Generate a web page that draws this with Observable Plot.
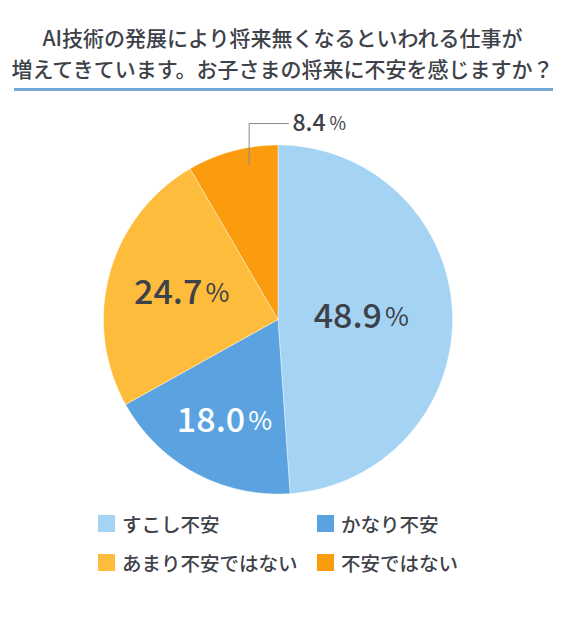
<!DOCTYPE html>
<html>
<head>
<meta charset="utf-8">
<script src="https://cdn.jsdelivr.net/npm/d3@7"></script>
<script src="https://cdn.jsdelivr.net/npm/@observablehq/plot@0.6"></script>
<style>
  body { margin: 0; background: #fff; font-family: "Noto Sans CJK JP", "Noto Sans", sans-serif; color: #3d4149; }
  #wrap { width: 570px; }
  h1 { margin: 0; padding: 22px 5px 0 0; height: 66px; font-size: 21px; font-weight: 500; line-height: 31px; text-align: center; }
  .rule { margin-left: 14px; width: 539px; height: 3px; background: #72a9d6; }
  #chart { margin-top: 8px; height: 405px; }
  .legend { display: grid; grid-template-columns: 219px 200px; padding-left: 98px; }
  .legend div { height: 39px; display: flex; align-items: center; font-size: 19.5px; font-weight: 500; }
  .legend span { display: inline-block; width: 17px; height: 17px; margin-right: 7px; }
</style>
</head>
<body>
<div id="wrap">
  <h1>AI技術の発展により将来無くなるといわれる仕事が<br>増えてきています。お子さまの将来に不安を感じますか？</h1>
  <div class="rule"></div>
  <div id="chart"></div>
  <div class="legend" id="legend"></div>
</div>
<script>
// answers, in clockwise order from 12 o'clock
const answers = ["すこし不安", "かなり不安", "あまり不安ではない", "不安ではない"];
const shares = [48.9, 18.0, 24.7, 8.4];
const colors = ["#a5d3f4", "#5aa3e0", "#fdbc3b", "#fa9c0d"];

const arcs = d3.pie().sort(null).value(d => d)(shares);

// slice outlines in unit-circle coords (angle 0 = top, clockwise)
const polar = (a, r) => ({x: r * Math.sin(a), y: r * Math.cos(a)});
const slices = arcs.map((a, i) => {
  const pts = [{...polar(0, 0), key: i}];
  const n = Math.max(2, Math.ceil((a.endAngle - a.startAngle) / 0.01));
  for (let k = 0; k <= n; k++) {
    pts.push({...polar(a.startAngle + (a.endAngle - a.startAngle) * k / n, 1), key: i});
  }
  pts.push({...polar(0, 0), key: i});
  return pts;
});

// inside labels (last slice gets a leader line)
const labelR = [0.47, 0.66, 0.58];
const inside = arcs.slice(0, 3).map((a, i) => ({
  ...polar((a.startAngle + a.endAngle) / 2, labelR[i]),
  num: shares[i].toFixed(1),
  color: i === 1 ? "#fff" : "#3d4149"
}));

const last = arcs[3];
const p0 = polar(last.startAngle + 0.65 * (last.endAngle - last.startAngle), 0.9);
const leader = [p0, {x: p0.x, y: 1.123}, {x: 0.06, y: 1.123}];
const outside = [{x: 0.06, y: 1.123, num: shares[3].toFixed(1)}];

const cx = 277.5, cy = 220, R = 174.5;

const chart = Plot.plot({
  width: 570,
  height: 405,
  margin: 0,
  x: {domain: [-1, 1], range: [cx - R, cx + R], axis: null},
  y: {domain: [-1, 1], range: [cy + R, cy - R], axis: null},
  style: {fontFamily: "'Noto Sans CJK JP', sans-serif", background: "transparent"},
  marks: [
    ...slices.map((s, i) => Plot.line(s, {x: "x", y: "y", fill: colors[i], stroke: "#fff", strokeWidth: 0.6, strokeOpacity: 0.7})),
    Plot.text(inside, {x: "x", y: "y", text: "num", textAnchor: "end", dx: 22, fontSize: 34, fontWeight: 500, fill: "color"}),
    Plot.text(inside, {x: "x", y: "y", text: () => "%", textAnchor: "start", dx: 25, dy: 1, fontSize: 26, fontWeight: 400, fill: "color"}),
    Plot.line(leader, {x: "x", y: "y", stroke: "#8a8a8a", strokeWidth: 1}),
    Plot.text(outside, {x: "x", y: "y", text: "num", textAnchor: "start", dx: 4, fontSize: 23, fontWeight: 500, fill: "#3d4149"}),
    Plot.text(outside, {x: "x", y: "y", text: () => "%", textAnchor: "start", dx: 41, dy: 1, fontSize: 18, fontWeight: 400, fill: "#3d4149"})
  ]
});
document.getElementById("chart").append(chart);

const legend = document.getElementById("legend");
answers.forEach((name, i) => {
  const row = document.createElement("div");
  row.innerHTML = `<span style="background:${colors[i]}"></span>${name}`;
  legend.append(row);
});
</script>
</body>
</html>
